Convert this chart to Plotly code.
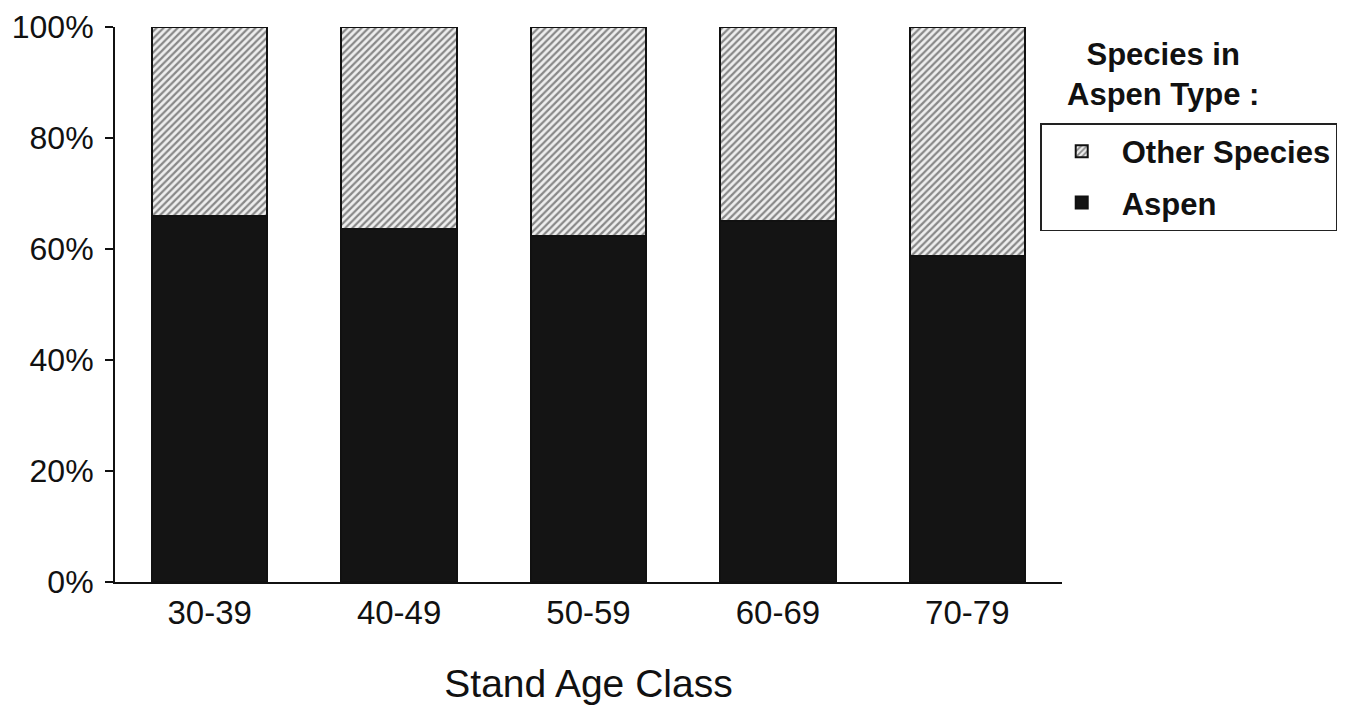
import plotly.graph_objects as go

categories = ["30-39", "40-49", "50-59", "60-69", "70-79"]
aspen = [66.0, 63.6, 62.4, 65.0, 58.8]
other = [34.0, 36.4, 37.6, 35.0, 41.2]
y_ticks = [0, 20, 40, 60, 80, 100]
y_tick_labels = ["0%", "20%", "40%", "60%", "80%", "100%"]

FONT = "Liberation Sans, Arial, sans-serif"

fig = go.Figure()
fig.add_trace(go.Bar(
    x=categories, y=aspen, name="Aspen", legendgroup="a", legendrank=2,
    marker=dict(color="#141414", line=dict(color="#111111", width=2)),
))
fig.add_trace(go.Bar(
    x=categories, y=other, name="Other Species", legendgroup="b", legendrank=1,
    marker=dict(color="white", line=dict(color="#111111", width=2),
                pattern=dict(shape="/", fgcolor="#222222", bgcolor="#eeeeee",
                             size=5, solidity=0.45)),
))

fig.update_layout(
    width=1358, height=706,
    barmode="stack", bargap=0.39,
    paper_bgcolor="white", plot_bgcolor="white",
    margin=dict(l=107, r=304, t=19, b=132),
    font=dict(family=FONT, size=32, color="#111111"),
    showlegend=True,
    legend=dict(
        x=0.977, y=0.827, xanchor="left", yanchor="top",
        bordercolor="#222222", borderwidth=1.5, bgcolor="white",
        font=dict(family=FONT, size=31, color="#111111", weight="bold"),
        traceorder="grouped", tracegroupgap=8, itemwidth=70,
    ),
    annotations=[dict(
        text="<b>Species in<br>Aspen Type :</b>", xref="paper", yref="paper",
        x=1.107, y=0.985, xanchor="center", yanchor="top", showarrow=False,
        align="center", font=dict(family=FONT, size=31, color="#111111"),
    )],
)

fig.update_xaxes(
    showline=True, linecolor="#111111", linewidth=2, ticks="",
    tickfont=dict(size=33), showgrid=False, automargin=False,
    title=dict(text="Stand Age Class", font=dict(size=39), standoff=40),
)
fig.update_yaxes(
    range=[0, 100], tickvals=y_ticks, ticktext=y_tick_labels,
    showline=True, linecolor="#111111", linewidth=2,
    ticks="outside", ticklen=8, tickwidth=2, tickcolor="#111111",
    ticklabelstandoff=5, automargin=False, ticklabeloverflow="allow",
    tickfont=dict(size=32), showgrid=False, zeroline=False,
)

fig.write_html("out.html")
